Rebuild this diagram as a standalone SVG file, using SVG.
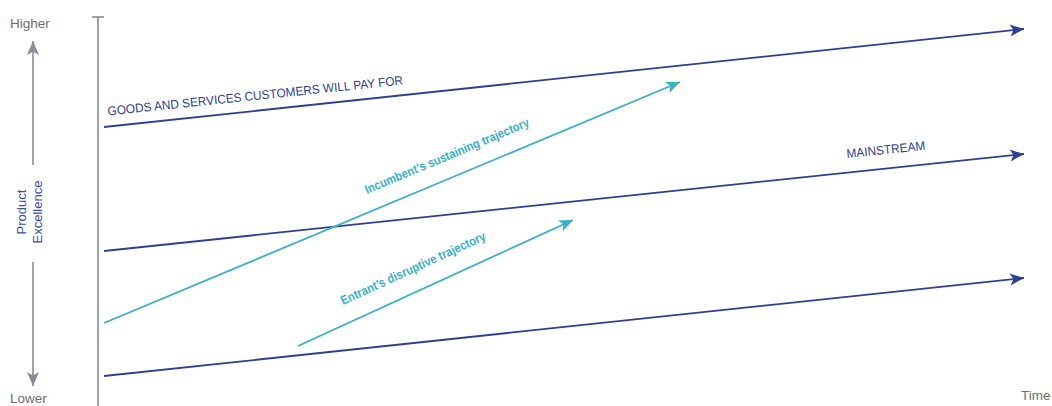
<svg xmlns="http://www.w3.org/2000/svg" width="1052" height="406" viewBox="0 0 1052 406">
  <style>
    .axis { stroke: #868c93; stroke-width: 1.6; fill: none; }
    .blue { stroke: #2e3f94; stroke-width: 1.8; fill: none; }
    .teal { stroke: #39b0c6; stroke-width: 1.8; fill: none; }
    .gray-text { font-family: "Liberation Sans", Arial, sans-serif; font-size: 13.5px; fill: #6d6e71; }
    .blue-text { font-family: "Liberation Sans", Arial, sans-serif; font-size: 12.5px; fill: #2e3f94; }
    .teal-text { font-family: "Liberation Sans", Arial, sans-serif; font-size: 12.5px; font-weight: bold; fill: #39b0c6; }
    .axis-label { font-family: "Liberation Sans", Arial, sans-serif; font-size: 13px; fill: #3a50a8; text-anchor: middle; }
  </style>
  <defs>
    <marker id="arrow-blue" markerUnits="userSpaceOnUse" markerWidth="16" markerHeight="14" viewBox="-15 -7 16 14" refX="0" refY="0" orient="auto">
      <path d="M0,0 L-14,-6 L-10.5,0 L-14,6 Z" fill="#2e3f94"/>
    </marker>
    <marker id="arrow-teal" markerUnits="userSpaceOnUse" markerWidth="16" markerHeight="14" viewBox="-15 -7 16 14" refX="0" refY="0" orient="auto">
      <path d="M0,0 L-14,-6 L-10.5,0 L-14,6 Z" fill="#39b0c6"/>
    </marker>
    <marker id="arrow-gray" markerUnits="userSpaceOnUse" markerWidth="16" markerHeight="14" viewBox="-15 -7 16 14" refX="0" refY="0" orient="auto">
      <path d="M0,0 L-14,-6 L-10.5,0 L-14,6 Z" fill="#868c93"/>
    </marker>
  </defs>

  <!-- vertical scale: product excellence -->
  <g id="y-axis">
    <line class="axis" x1="98" y1="17" x2="98" y2="406"/>
    <line class="axis" x1="92" y1="17" x2="104" y2="17"/>
    <line class="axis" x1="33" y1="165" x2="33" y2="41" marker-end="url(#arrow-gray)"/>
    <line class="axis" x1="33" y1="262" x2="33" y2="386" marker-end="url(#arrow-gray)"/>
    <text class="gray-text" x="10" y="28">Higher</text>
    <text class="gray-text" x="10" y="403">Lower</text>
    <text class="axis-label" transform="translate(26,212) rotate(-90)">Product</text>
    <text class="axis-label" transform="translate(42,212) rotate(-90)">Excellence</text>
  </g>

  <g id="x-axis">
    <text class="gray-text" x="1021" y="400">Time</text>
  </g>

  <!-- performance trajectories -->
  <g id="connectors">
    <line class="blue" x1="104" y1="127" x2="1024" y2="29" marker-end="url(#arrow-blue)"/>
    <line class="blue" x1="104" y1="251" x2="1024" y2="154" marker-end="url(#arrow-blue)"/>
    <line class="blue" x1="104" y1="376" x2="1024" y2="278" marker-end="url(#arrow-blue)"/>
    <line class="teal" x1="104" y1="323" x2="680" y2="82" marker-end="url(#arrow-teal)"/>
    <line class="teal" x1="298" y1="346" x2="573" y2="220" marker-end="url(#arrow-teal)"/>
  </g>

  <g id="goods-label">
    <text class="blue-text" transform="translate(108,115.5) rotate(-6)" textLength="297" lengthAdjust="spacingAndGlyphs">GOODS AND SERVICES CUSTOMERS WILL PAY FOR</text>
  </g>
  <g id="mainstream-label">
    <text class="blue-text" transform="translate(847,158) rotate(-6)" textLength="79" lengthAdjust="spacingAndGlyphs">MAINSTREAM</text>
  </g>
  <g id="incumbent-label">
    <text class="teal-text" transform="translate(367,194) rotate(-22.7)" textLength="177" lengthAdjust="spacingAndGlyphs">Incumbent’s sustaining trajectory</text>
  </g>
  <g id="entrant-label">
    <text class="teal-text" transform="translate(343,305) rotate(-24.6)" textLength="158" lengthAdjust="spacingAndGlyphs">Entrant’s disruptive trajectory</text>
  </g>
</svg>
